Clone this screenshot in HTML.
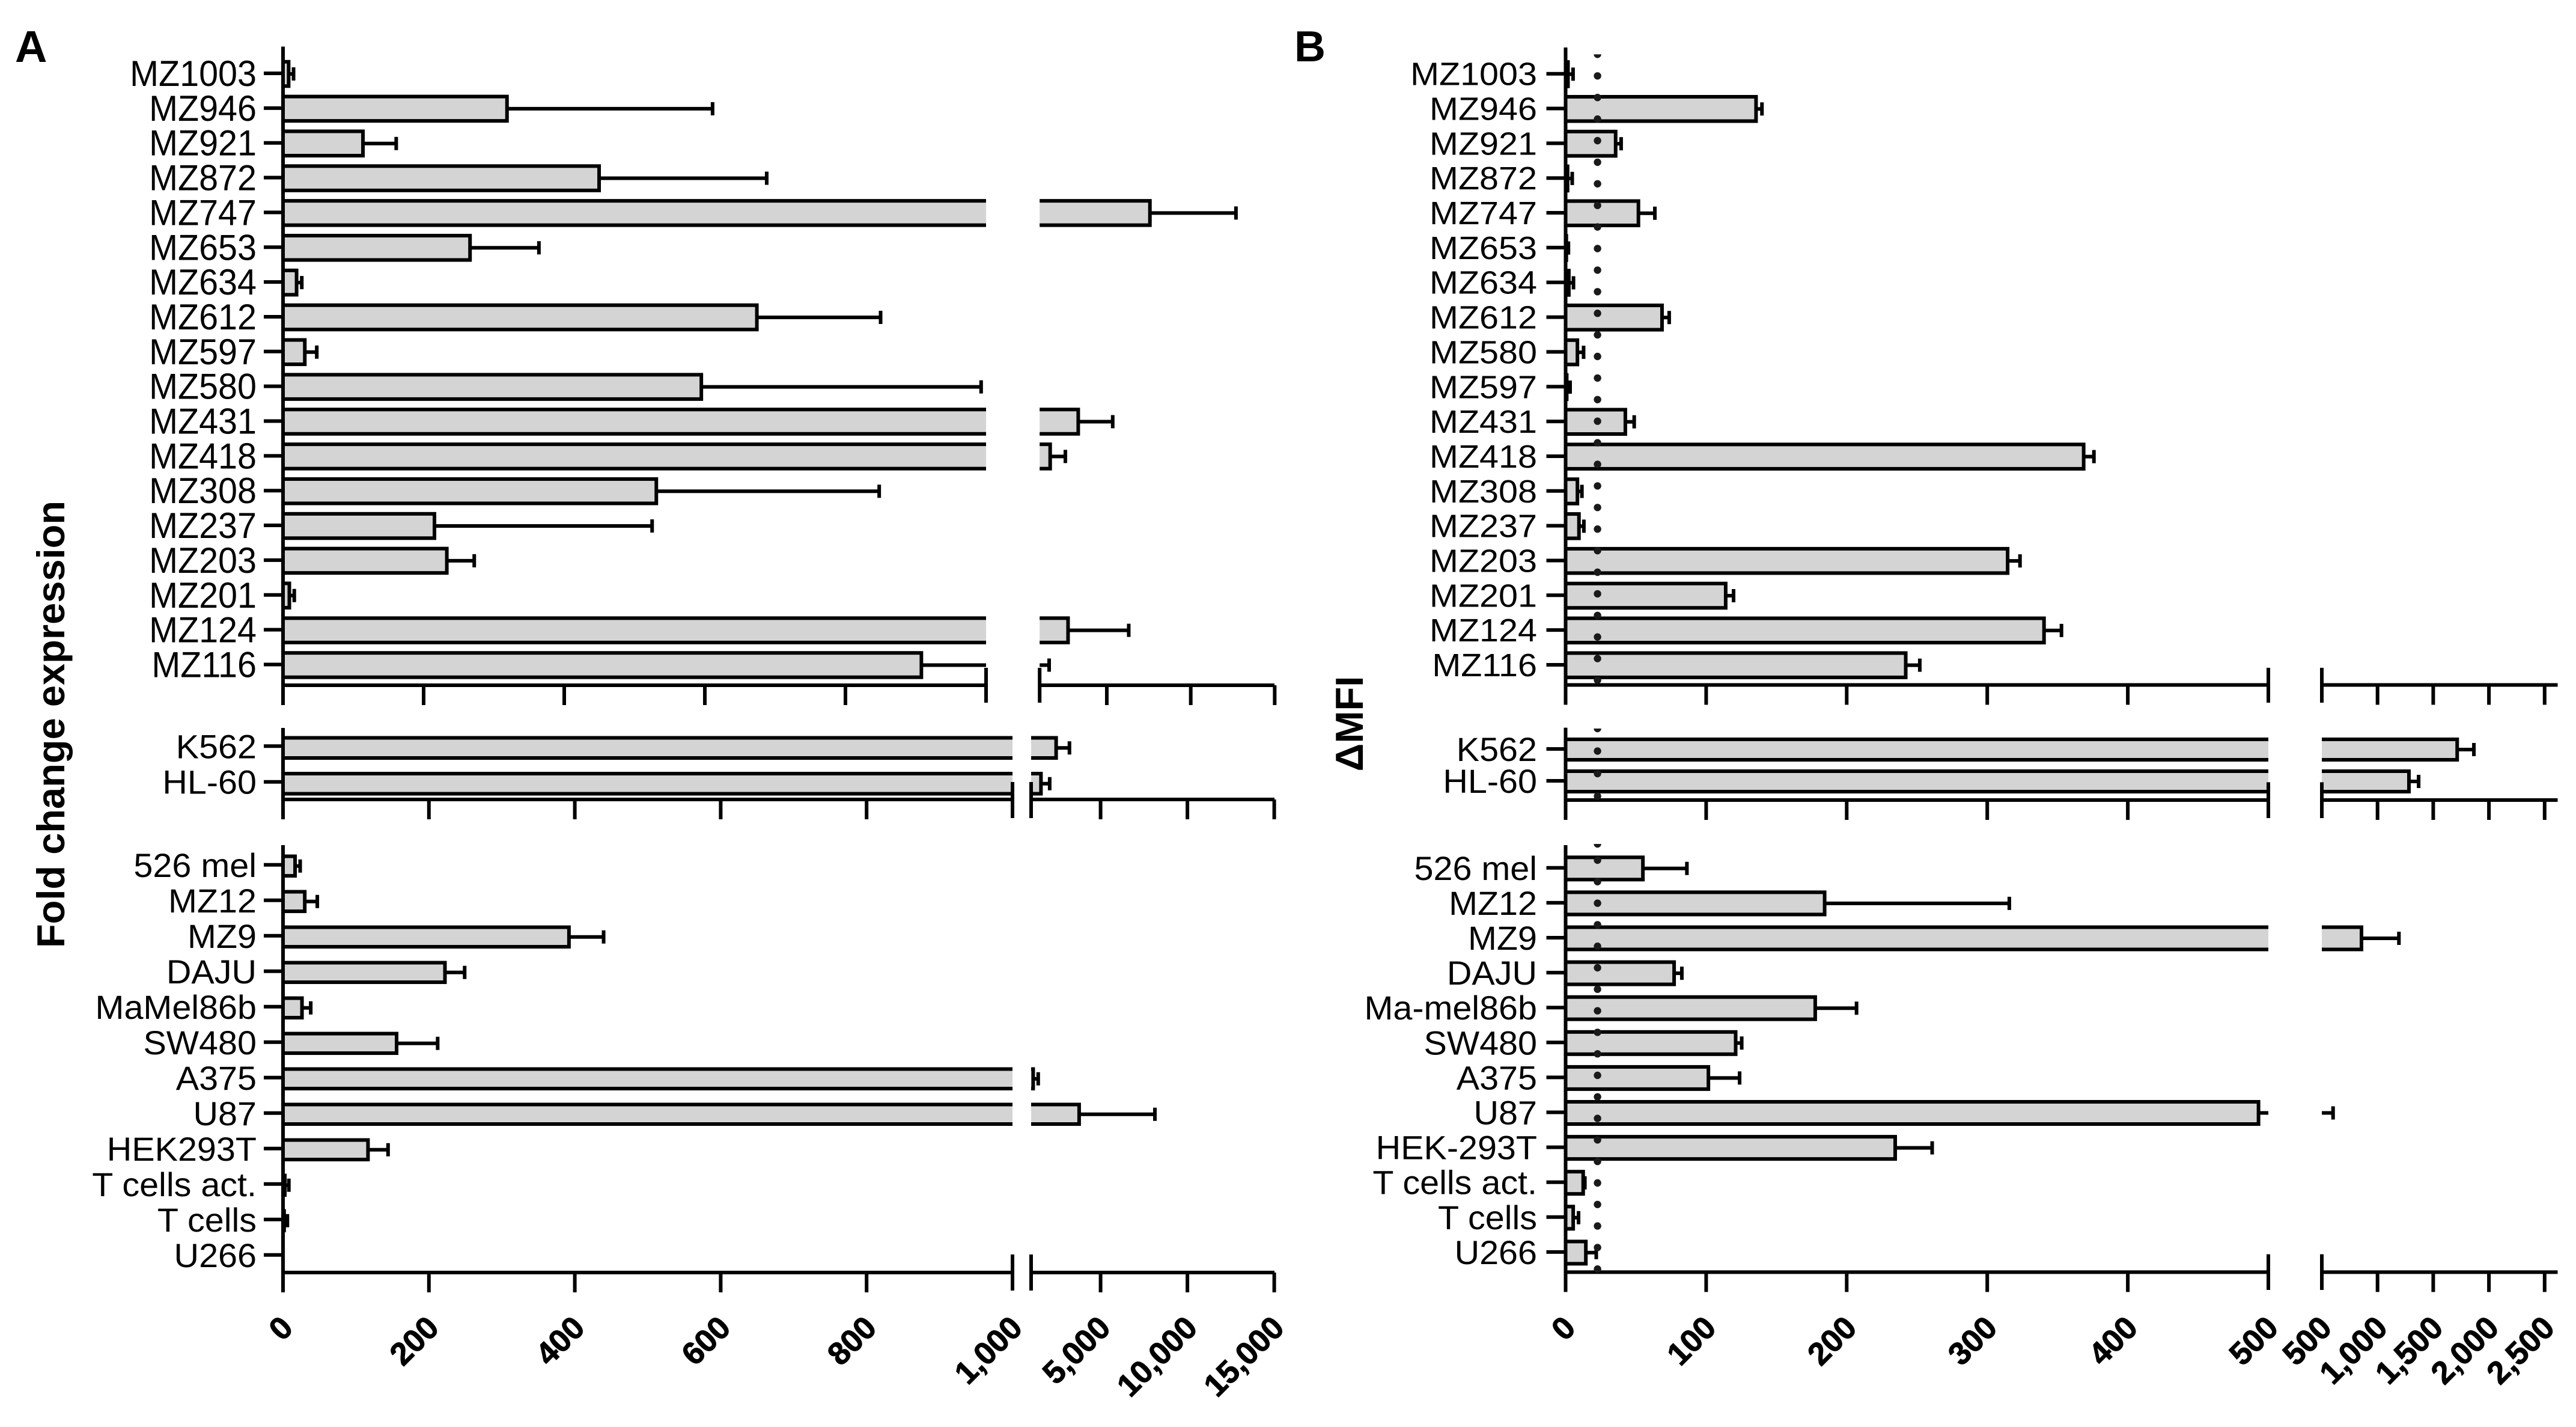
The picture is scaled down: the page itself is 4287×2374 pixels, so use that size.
<!DOCTYPE html>
<html lang="en">
<head>
<meta charset="utf-8">
<title>Fold change expression and delta MFI by cell line</title>
<style>
  html, body { margin: 0; padding: 0; background: #ffffff; }
  svg { display: block; }
  text { font-family: "Liberation Sans", Arial, sans-serif; fill: #000000; }
</style>
</head>
<body>
<svg id="figure" xmlns="http://www.w3.org/2000/svg" width="4287" height="2374" viewBox="0 0 4287 2374">
  <defs>
    <clipPath id="clip-dots-top"><rect x="2600" y="90.4" width="120" height="1060"/></clipPath>
    <clipPath id="clip-dots-mid"><rect x="2600" y="1212" width="120" height="130"/></clipPath>
    <clipPath id="clip-dots-bottom"><rect x="2600" y="1404" width="120" height="720"/></clipPath>
  </defs>
  <rect x="0" y="0" width="4287" height="2374" fill="#ffffff"/>
  <text x="25" y="103" font-size="74" font-weight="700">A</text>
  <text x="2154" y="102" font-size="72" font-weight="700">B</text>
  <text transform="translate(107,1205) rotate(-90)" text-anchor="middle" font-size="65" font-weight="700">Fold change expression</text>
  <text transform="translate(2268,1204) rotate(-90)" text-anchor="middle" font-size="65" font-weight="700">ΔMFI</text>
  <g id="panel-a"></g>
  <g id="panel-b"></g>
</svg>
<script>
// ---------- Panel A data: fold change expression ----------
const aTopCategories = ['MZ1003','MZ946','MZ921','MZ872','MZ747','MZ653','MZ634','MZ612','MZ597','MZ580','MZ431','MZ418','MZ308','MZ237','MZ203','MZ201','MZ124','MZ116'];
const aTopValues = [8,318.6,113.7,449.6,7568,266,19.3,674,31,595,3298,1626,531,215.4,233,9,2692,908];
const aTopUpper = [15,611,161,688,12693,364,26.7,850,48,993,5352,2532,848,525,272,16,6306,1565];

const aMidCategories = ['K562','HL-60'];
const aMidValues = [2440,1567];
const aMidUpper = [3207,2069];

const aBottomCategories = ['526 mel','MZ12','MZ9','DAJU','MaMel86b','SW480','A375','U87','HEK293T','T cells act.','T cells','U266'];
const aBottomValues = [16.5,29.8,392,222,26,155.7,1118,3765,116.5,2.5,1.5,0];
const aBottomUpper = [23.5,47,439.5,249,38,212,1408,8128,144,8,6,0];

const aLeftTicks = [0,200,400,600,800,1000];
const aLeftTickLabels = ['0','200','400','600','800','1,000'];
const aRightTicks = [5000,10000,15000];
const aRightTickLabels = ['5,000','10,000','15,000'];

// ---------- Panel B data: delta MFI ----------
const bTopCategories = ['MZ1003','MZ946','MZ921','MZ872','MZ747','MZ653','MZ634','MZ612','MZ580','MZ597','MZ431','MZ418','MZ308','MZ237','MZ203','MZ201','MZ124','MZ116'];
const bTopValues = [1.7,135.5,35.6,1.4,51.8,0.5,2.3,68.6,8.4,0.8,42.5,368.6,8.4,9.5,314.5,113.9,340.4,242];
const bTopUpper = [5.3,139.7,39.5,4.7,63.5,2,5.6,73.7,12.8,3.2,48.8,375.9,11.6,13,323.3,119.5,352.8,252];

const bMidCategories = ['K562','HL-60'];
const bMidValues = [1715,1282];
const bMidUpper = [1865,1369];

const bBottomCategories = ['526 mel','MZ12','MZ9','DAJU','Ma-mel86b','SW480','A375','U87','HEK-293T','T cells act.','T cells','U266'];
const bBottomValues = [55,184.3,856,77.2,177.6,121,101.6,493,234.5,12.5,5.4,14.4];
const bBottomUpper = [86.3,315.7,1192,82.7,207,125.3,123.8,601,260.8,13.7,9.2,21.8];

const bLeftTicks = [0,100,200,300,400,500];
const bLeftTickLabels = ['0','100','200','300','400','500'];
const bRightTicks = [500,1000,1500,2000,2500];
const bRightTickLabels = ['500','1,000','1,500','2,000','2,500'];

const bThreshold = 22.7;

// ---------- Drawing ----------
const NS = 'http://www.w3.org/2000/svg';
const STROKE = 6;
const FILL = '#d4d4d4';
const DOT_R = 6.2;

function mk(tag, attrs, parent) {
  const el = document.createElementNS(NS, tag);
  for (const k in attrs) el.setAttribute(k, attrs[k]);
  parent.appendChild(el);
  return el;
}
function slug(s) {
  return s.toLowerCase().replace(/[^a-z0-9]+/g, '-').replace(/^-|-$/g, '');
}
function makeScale(cfg) {
  return function (v) {
    if (v <= cfg.breakValue) return cfg.x0 + (v / cfg.breakValue) * (cfg.xBreak - cfg.x0);
    return cfg.xRight + (v - cfg.breakValue) * cfg.rightPerUnit;
  };
}

function drawBar(parent, cfg, x, label, value, upper, cy) {
  const top = cy - cfg.barH / 2;
  const bot = cy + cfg.barH / 2;
  const row = mk('g', {}, parent);
  
  
  if (value <= cfg.breakValue) {
    mk('rect', { x: cfg.x0, y: top, width: Math.max(0, x(value) - cfg.x0), height: cfg.barH, fill: FILL, stroke: value > 0 ? '#000' : 'none', 'stroke-width': STROKE }, row);
  } else {
    mk('rect', { x: cfg.x0, y: top, width: cfg.xBreak - cfg.x0, height: cfg.barH, fill: FILL }, row);
    mk('path', { d: 'M' + cfg.x0 + ' ' + top + 'H' + cfg.xBreak + 'M' + cfg.x0 + ' ' + bot + 'H' + cfg.xBreak, fill: 'none', stroke: '#000', 'stroke-width': STROKE }, row);
    mk('path', { d: 'M' + cfg.xRight + ' ' + top + 'H' + x(value) + 'V' + bot + 'H' + cfg.xRight, fill: FILL, stroke: '#000', 'stroke-width': STROKE }, row);
  }
  if (upper > value) {
    const err = mk('g', {}, parent);
    
    
    let d = '';
    if (value <= cfg.breakValue && upper > cfg.breakValue) {
      d = 'M' + x(value) + ' ' + cy + 'H' + cfg.xBreak + 'M' + cfg.xRight + ' ' + cy + 'H' + x(upper);
    } else {
      d = 'M' + x(value) + ' ' + cy + 'H' + x(upper);
    }
    d += 'M' + x(upper) + ' ' + (cy - 11) + 'V' + (cy + 11);
    mk('path', { d: d, fill: 'none', stroke: '#000', 'stroke-width': STROKE }, err);
  }
}

function drawGroup(panel, cfg, cats, vals, uppers, name) {
  const g = mk('g', {}, panel);
  
  
  const x = makeScale(cfg);

  cats.forEach(function (c, i) {
    const tickY = cfg.rowStart + i * cfg.rowPitch;
    drawBar(g, cfg, x, c, vals[i], uppers[i], tickY + cfg.barOffset);
  });

  const axis = mk('g', {}, g);
  
  
  let d = 'M' + cfg.x0 + ' ' + cfg.axisTop + 'V' + (cfg.axisY + cfg.tickLen);
  d += 'M' + (cfg.x0 - STROKE / 2) + ' ' + cfg.axisY + 'H' + cfg.xBreak;
  d += 'M' + cfg.xRight + ' ' + cfg.axisY + 'H' + cfg.xEnd;
  d += 'M' + cfg.xBreak + ' ' + cfg.breakTop + 'V' + cfg.breakBottom;
  d += 'M' + cfg.xRight + ' ' + cfg.breakTop + 'V' + cfg.breakBottom;
  cfg.leftTicks.forEach(function (t) {
    if (t > 0 && t < cfg.breakValue) d += 'M' + x(t) + ' ' + cfg.axisY + 'V' + (cfg.axisY + cfg.tickLen);
  });
  cfg.rightTicks.forEach(function (t) {
    if (t > cfg.breakValue) d += 'M' + x(t) + ' ' + cfg.axisY + 'V' + (cfg.axisY + cfg.tickLen);
  });
  cats.forEach(function (c, i) {
    const tickY = cfg.rowStart + i * cfg.rowPitch;
    d += 'M' + (cfg.x0 - 32) + ' ' + tickY + 'H' + cfg.x0;
  });
  mk('path', { d: d, fill: 'none', stroke: '#000', 'stroke-width': STROKE }, axis);

  cats.forEach(function (c, i) {
    const tickY = cfg.rowStart + i * cfg.rowPitch;
    const t = mk('text', {
      transform: 'translate(' + cfg.labelX + ',' + (tickY + cfg.labelDy) + ') scale(1,' + cfg.labelScaleY + ')',
      'text-anchor': 'end',
      'font-size': 57.5
    }, g);
    
    
    t.textContent = c;
  });

  if (cfg.showTickLabels) {
    const drawLabel = function (val, lbl) {
      const t = mk('text', {
        transform: 'translate(' + (x(val) + 19.5) + ',2212) rotate(-45)',
        'text-anchor': 'end',
        'font-size': 53,
        'font-weight': 700,
        stroke: '#000',
        'stroke-width': 1
      }, g);
      
      
      t.textContent = lbl;
    };
    cfg.leftTicks.forEach(function (v, i) { drawLabel(v, cfg.leftLabels[i]); });
    cfg.rightTicks.forEach(function (v, i) {
      if (v === cfg.breakValue) {
        const t = mk('text', {
          transform: 'translate(' + (cfg.xRight + 19.5) + ',2212) rotate(-45)',
          'text-anchor': 'end',
          'font-size': 53,
          'font-weight': 700,
          stroke: '#000',
          'stroke-width': 1
        }, g);
        
        
        t.textContent = cfg.rightLabels[i];
      } else {
        drawLabel(v, cfg.rightLabels[i]);
      }
    });
  }
  return x;
}

function drawDots(panel, cfg, start, pitch, count, clipId, name, extra) {
  const x = makeScale(cfg);
  const g = mk('g', { 'clip-path': 'url(#' + clipId + ')' }, panel);
  
  
  if (extra !== null) {
    mk('circle', { cx: x(bThreshold), cy: extra, r: DOT_R, fill: '#1a1a1a' }, g);
  }
  for (let k = 0; k < count; k++) {
    mk('circle', { cx: x(bThreshold), cy: start + k * pitch, r: DOT_R, fill: '#1a1a1a' }, g);
  }
}

const panelA = document.getElementById('panel-a');
const panelB = document.getElementById('panel-b');

const aBase = { x0: 471, breakValue: 1000, leftTicks: aLeftTicks, rightTicks: aRightTicks, leftLabels: aLeftTickLabels, rightLabels: aRightTickLabels, labelX: 427, tickLen: 33 };
const bBase = { x0: 2605.5, xBreak: 3775, xRight: 3864, xEnd: 4256.5, rightPerUnit: 0.1854, breakValue: 500, leftTicks: bLeftTicks, rightTicks: bRightTicks, leftLabels: bLeftTickLabels, rightLabels: bRightTickLabels, labelX: 2558, tickLen: 33 };

drawGroup(panelA, Object.assign({}, aBase, { xBreak: 1641, xRight: 1730.2, xEnd: 2121, rightPerUnit: 0.02794, rowStart: 122, rowPitch: 57.85, barOffset: 1, barH: 40.5, axisTop: 77.5, axisY: 1140, breakTop: 1111, breakBottom: 1169, labelDy: 21, labelScaleY: 1.05, showTickLabels: false }), aTopCategories, aTopValues, aTopUpper, 'panel-a-primary-tumors');
drawGroup(panelA, Object.assign({}, aBase, { xBreak: 1685, xRight: 1716, xEnd: 2121, rightPerUnit: 0.0289, rowStart: 1241.3, rowPitch: 59.4, barOffset: 3, barH: 33.5, axisTop: 1211, axisY: 1330, breakTop: 1301, breakBottom: 1361, labelDy: 20, labelScaleY: 0.96, showTickLabels: false }), aMidCategories, aMidValues, aMidUpper, 'panel-a-leukemia-lines');
drawGroup(panelA, Object.assign({}, aBase, { xBreak: 1685, xRight: 1716, xEnd: 2121, rightPerUnit: 0.0289, rowStart: 1438.8, rowPitch: 59, barOffset: 2, barH: 32.5, axisTop: 1406, axisY: 2117, breakTop: 2087, breakBottom: 2147, labelDy: 20, labelScaleY: 0.96, showTickLabels: true }), aBottomCategories, aBottomValues, aBottomUpper, 'panel-a-cell-lines');

drawGroup(panelB, Object.assign({}, bBase, { rowStart: 122.7, rowPitch: 57.84, barOffset: 0.7, barH: 40.5, axisTop: 79, axisY: 1139.5, breakTop: 1111, breakBottom: 1169, labelDy: 19, labelScaleY: 0.93, showTickLabels: false }), bTopCategories, bTopValues, bTopUpper, 'panel-b-primary-tumors');
drawGroup(panelB, Object.assign({}, bBase, { rowStart: 1246, rowPitch: 53, barOffset: 1, barH: 34, axisTop: 1210.6, axisY: 1331, breakTop: 1301.4, breakBottom: 1361, labelDy: 20, labelScaleY: 0.96, showTickLabels: false }), bMidCategories, bMidValues, bMidUpper, 'panel-b-leukemia-lines');
drawGroup(panelB, Object.assign({}, bBase, { rowStart: 1443.8, rowPitch: 58.1, barOffset: 1, barH: 37, axisTop: 1406, axisY: 2116.4, breakTop: 2086.6, breakBottom: 2146, labelDy: 20, labelScaleY: 0.97, showTickLabels: true }), bBottomCategories, bBottomValues, bBottomUpper, 'panel-b-cell-lines');

drawDots(panelB, bBase, 90.4, 35.9, 30, 'clip-dots-top', 'threshold-dotted-line-top', null);
drawDots(panelB, bBase, 1212, 37.5, 4, 'clip-dots-mid', 'threshold-dotted-line-middle', null);
drawDots(panelB, bBase, 1431, 35.8, 20, 'clip-dots-bottom', 'threshold-dotted-line-bottom', 1404);
</script>
</body>
</html>
